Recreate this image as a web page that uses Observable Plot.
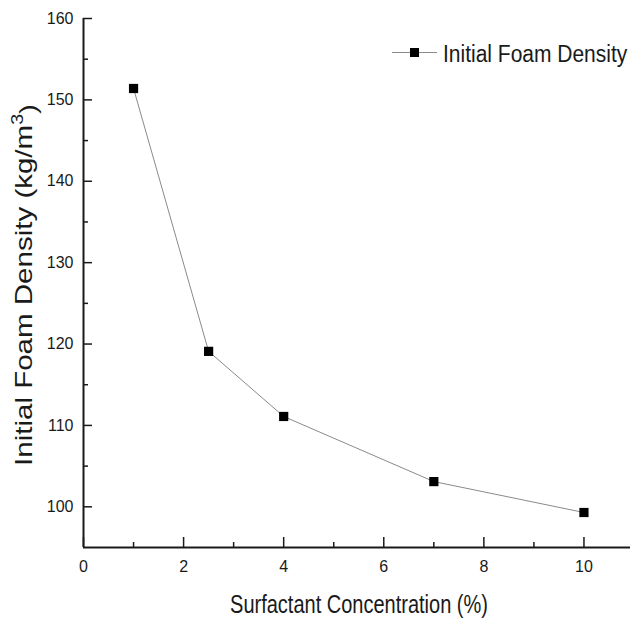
<!DOCTYPE html>
<html>
<head>
<meta charset="utf-8">
<script src="https://cdn.jsdelivr.net/npm/d3@7"></script>
<script src="https://cdn.jsdelivr.net/npm/@observablehq/plot@0.6"></script>
<style>
  html, body { margin: 0; padding: 0; background: #fff; }
  #chart svg { display: block; }
</style>
</head>
<body>
<div id="chart"></div>
<script>
const concentration = [1, 2.5, 4, 7, 10];
const density = [151.4, 119.1, 111.1, 103.1, 99.3];
const xTicks = [0, 2, 4, 6, 8, 10];
const xMinorTicks = [1, 3, 5, 7, 9];
const yTicks = [100, 110, 120, 130, 140, 150, 160];
const yMinorTicks = [105, 115, 125, 135, 145, 155];
const seriesName = "Initial Foam Density";
const xTitle = "Surfactant Concentration (%)";
const yTitleMain = "Initial Foam Density (kg/m";
const yTitleSup = "3";
const yTitleEnd = ")";

const data = concentration.map((c, i) => ({c, d: density[i]}));
const font = "Liberation Sans, Arial, sans-serif";
const ink = "#1a1a1a";

const plot = Plot.plot({
  width: 630,
  height: 618,
  marginLeft: 83,
  marginRight: 0,
  marginTop: 18,
  marginBottom: 71,
  style: {fontFamily: font, background: "#fff", color: ink},
  x: {domain: [0, 10.93]},
  y: {domain: [95, 160]},
  marks: [
    Plot.axisX({ticks: xTicks, tickSize: -10, tickPadding: 23, fontSize: 16, label: null, strokeWidth: 1.5, stroke: ink, fill: ink}),
    Plot.axisX({ticks: xMinorTicks, tickSize: -5, tickFormat: () => "", label: null, strokeWidth: 1.5, stroke: ink}),
    Plot.axisY({ticks: yTicks, tickSize: -9, tickPadding: 19, fontSize: 16, label: null, strokeWidth: 1.5, stroke: ink, fill: ink}),
    Plot.axisY({ticks: yMinorTicks, tickSize: -5, tickFormat: () => "", label: null, strokeWidth: 1.5, stroke: ink}),
    Plot.ruleX([0], {stroke: ink, strokeWidth: 2}),
    Plot.ruleY([95], {stroke: ink, strokeWidth: 2}),
    Plot.line(data, {x: "c", y: "d", stroke: "#8a8a8a", strokeWidth: 1}),
    Plot.dot(data, {x: "c", y: "d", symbol: "square", r: 5.2, fill: "#000", stroke: "none"})
  ]
});

document.getElementById("chart").appendChild(plot);

const svg = d3.select(plot);

// axis titles
svg.append("text")
  .attr("aria-label", "x-axis title")
  .attr("transform", "translate(359,613) scale(1,1.28)")
  .attr("text-anchor", "middle")
  .attr("font-family", font).attr("font-size", 20).attr("fill", ink)
  .text(xTitle);

const yt = svg.append("text")
  .attr("aria-label", "y-axis title")
  .attr("transform", "translate(32,285) rotate(-90) scale(1.23,1)")
  .attr("text-anchor", "middle")
  .attr("font-family", font).attr("font-size", 24).attr("fill", ink);
yt.append("tspan").text(yTitleMain);
yt.append("tspan").attr("dy", "-0.55em").attr("font-size", 16).text(yTitleSup);
yt.append("tspan").attr("dy", "0.55em").text(yTitleEnd);

// legend
const lg = svg.append("g").attr("aria-label", "legend");
lg.append("line").attr("x1", 392).attr("x2", 437).attr("y1", 52.5).attr("y2", 52.5)
  .attr("stroke", "#8a8a8a").attr("stroke-width", 1);
lg.append("rect").attr("x", 410).attr("y", 48).attr("width", 9).attr("height", 9).attr("fill", "#000");
lg.append("text")
  .attr("transform", "translate(443,61.5) scale(1,1.13)")
  .attr("text-anchor", "start")
  .attr("font-family", font).attr("font-size", 21).attr("fill", ink).text(seriesName);
</script>
</body>
</html>
